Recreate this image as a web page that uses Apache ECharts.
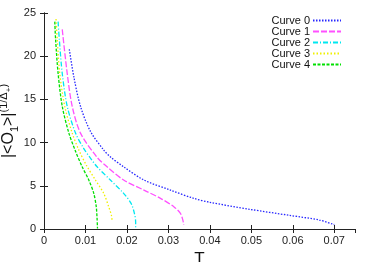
<!DOCTYPE html>
<html><head><meta charset="utf-8">
<script src="https://cdn.jsdelivr.net/npm/echarts@6/dist/echarts.min.js"></script>
<style>html,body{margin:0;padding:0;background:#fff}#c{width:374px;height:262px}</style>
</head><body><div id="c"></div>
<script>
var names = ['Curve 0','Curve 1','Curve 2','Curve 3','Curve 4'];
var t0=[0.0061,0.0072,0.0088,0.0112,0.0144,0.0160,0.0192,0.0241,0.0305,0.0361,0.0400,0.0496,0.0592,0.0664,0.0700];
var v0=[20.8,17.6,14.2,11.3,9.14,8.35,7.2,5.67,4.5,3.55,3.09,2.28,1.58,1.04,0.5];
var t1=[0.0044,0.0056,0.0068,0.0088,0.0128,0.0152,0.0192,0.0241,0.0281,0.0313,0.0329,0.0335,0.0337];
var v1=[23.1,18.0,14.2,11.1,8.3,7.2,5.67,4.5,3.55,2.58,1.81,1.0,0.46];
var t2=[0.0034,0.0037,0.0044,0.0056,0.0076,0.0096,0.0112,0.0128,0.0160,0.0192,0.0210,0.0218,0.0221,0.0221];
var v2=[24.0,21.9,18.0,14.2,11.1,9.3,8.2,7.2,5.67,4.13,2.97,1.81,0.8,0.2];
var t3=[0.0029,0.0032,0.0038,0.0050,0.0068,0.0084,0.0102,0.0124,0.0144,0.0156,0.0163,0.0164];
var v3=[24.3,21.9,18.0,14.2,11.1,9.14,7.4,5.67,4.13,2.58,1.5,0.9];
var t4=[0.0026,0.0028,0.0034,0.0044,0.0060,0.0076,0.0092,0.0108,0.0120,0.0126,0.0128,0.0129];
var v4=[24.0,21.9,18.0,14.2,11.1,9.0,7.2,5.67,4.13,2.58,1.2,0.05];
var xTicks=['0','0.01','0.02','0.03','0.04','0.05','0.06','0.07'];
var yTicks=['0','5','10','15','20','25'];

var colors=['#2828ff','#ff50ff','#00e8f0','#f0f000','#00e000'];
var dashes=[[1.5,1.5],[6,2],[5,2,1,2],[1.5,2],[3,1.5]];
var Ts=[t0,t1,t2,t3,t4], Vs=[v0,v1,v2,v3,v4];
var series=names.map(function(n,i){
  return {name:n,type:'line',xAxisIndex:0,yAxisIndex:0,symbol:'none',smooth:0.3,
    data:Ts[i].map(function(t,j){return [t,Vs[i][j]];}),
    lineStyle:{color:colors[i],width:1.3,type:dashes[i]},itemStyle:{color:colors[i]}};
});
var F='"Liberation Sans", Arial, sans-serif';
var chart=echarts.init(document.getElementById('c'),null,{renderer:'canvas'});
chart.setOption({
  animation:false,
  grid:{left:44,right:19,top:13,bottom:33,show:false,containLabel:false,outerBoundsMode:'none'},
  legend:{data:names,orient:'vertical',right:32,top:15,align:'right',padding:0,itemGap:0,itemWidth:28,itemHeight:10,
    itemStyle:{opacity:0},
    textStyle:{fontFamily:F,fontSize:11,color:'#111',lineHeight:10.6,padding:[0,-2,0,0]}},
  xAxis:[{type:'value',min:0,max:0.075,interval:0.01,
    name:'T',nameLocation:'middle',nameGap:22,nameMoveOverlap:false,nameTextStyle:{fontFamily:F,fontSize:17,color:'#111'},
    axisLine:{onZero:false,lineStyle:{color:'#222',width:1}},
    axisTick:{inside:true,length:4,lineStyle:{color:'#222'}},
    axisLabel:{fontFamily:F,fontSize:11,color:'#222',margin:6,showMaxLabel:false,
      formatter:function(v){var k=Math.round(v*100);return k<xTicks.length?xTicks[k]:'';}},
    splitLine:{show:false}},
   {type:'value',position:'top',min:0,max:0.075,interval:0.01,
    axisLine:{show:true,lineStyle:{color:'#222',width:1}},
    axisTick:{inside:true,length:4,lineStyle:{color:'#222'}},axisLabel:{show:false},splitLine:{show:false}}],
  yAxis:[{type:'value',min:0,max:25,interval:5,
    name:'{a||<O}{b|1}{a|>|}{c|(1/Δ}{d|+}{c|)}',nameLocation:'middle',nameGap:24,nameRotate:90,nameMoveOverlap:false,
    nameTextStyle:{rich:{
      a:{fontFamily:F,fontSize:16,color:'#111',lineHeight:22,verticalAlign:'middle'},
      b:{fontFamily:F,fontSize:11,color:'#111',lineHeight:22,verticalAlign:'bottom'},
      c:{fontFamily:F,fontSize:11,color:'#111',lineHeight:22,verticalAlign:'top'},
      d:{fontFamily:F,fontSize:8,color:'#111',lineHeight:22,verticalAlign:'top',padding:[7,0,0,0]}}},
    axisLine:{onZero:false,lineStyle:{color:'#222',width:1}},
    axisTick:{inside:true,length:4,lineStyle:{color:'#222'}},
    axisLabel:{fontFamily:F,fontSize:11,color:'#222',margin:8,
      formatter:function(v){return yTicks[Math.round(v/5)];}},
    splitLine:{show:false}},
   {type:'value',position:'right',min:0,max:25,interval:5,
    axisLine:{show:true,lineStyle:{color:'#222',width:1}},
    axisTick:{inside:true,length:4,lineStyle:{color:'#222'}},axisLabel:{show:false},splitLine:{show:false}}],
  series:series
});
</script></body></html>
